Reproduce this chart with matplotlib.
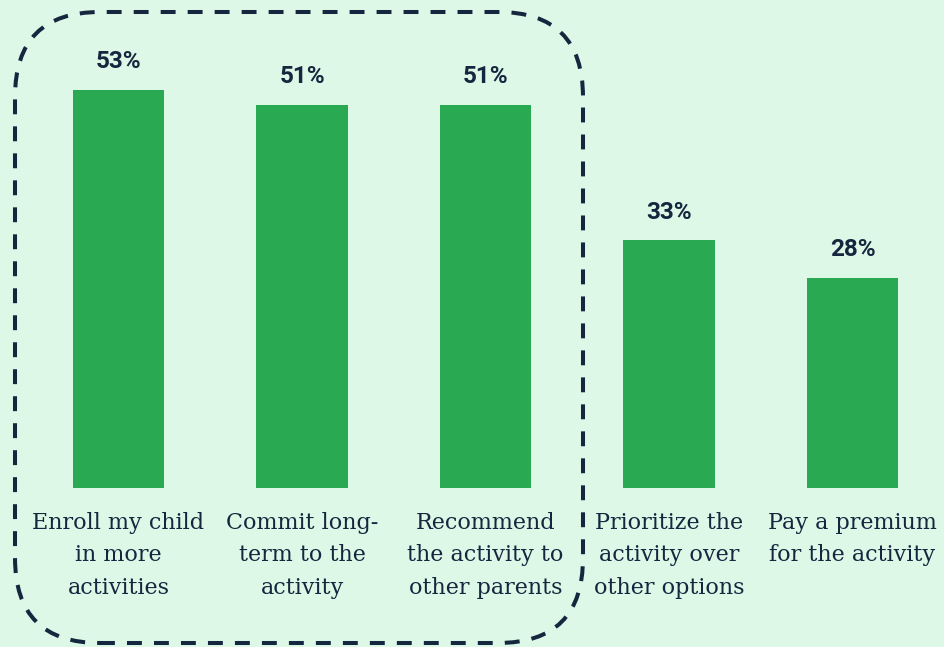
import matplotlib.pyplot as plt
from matplotlib.patches import FancyBboxPatch

bg_color = "#ddf8e7"
bar_color = "#2aa953"
ink = "#14273f"

categories = ["Enroll my child\nin more\nactivities",
              "Commit long-\nterm to the\nactivity",
              "Recommend\nthe activity to\nother parents",
              "Prioritize the\nactivity over\nother options",
              "Pay a premium\nfor the activity"]
values = [53, 51, 51, 33, 28]
value_labels = ["53%", "51%", "51%", "33%", "28%"]

fig = plt.figure(figsize=(9.45, 6.47), dpi=100)
fig.patch.set_facecolor(bg_color)
ax = fig.add_axes([0, 0, 1, 1])
ax.set_facecolor(bg_color)
ax.axis("off")

x = list(range(len(values)))
ax.bar(x, values, width=0.5, color=bar_color)
ax.set_xlim(-0.646, 4.504)
ax.set_ylim(-21.17, 64.98)

for xi, v, lab in zip(x, values, value_labels):
    ax.annotate(lab, (xi, v), xytext=(0, 12), textcoords="offset points",
                ha="center", va="bottom", fontsize=17.5, fontweight="bold",
                family="Roboto", color=ink)

for xi, cat in zip(x, categories):
    ax.annotate(cat, (xi, 0), xytext=(0, -17), textcoords="offset points",
                ha="center", va="top", fontsize=16, family="DejaVu Serif",
                color=ink, linespacing=1.62)

# dashed rounded outline around the first three bars (inches)
box = FancyBboxPatch((0.15, 0.04), 5.68, 6.31,
                     boxstyle="round,pad=0,rounding_size=0.85",
                     transform=fig.dpi_scale_trans, fill=False,
                     edgecolor=ink, linewidth=2.9,
                     linestyle=(0, (3.7, 3.0)), clip_on=False)
fig.patches.append(box)

fig.savefig("out.png", dpi=100, facecolor=bg_color)
